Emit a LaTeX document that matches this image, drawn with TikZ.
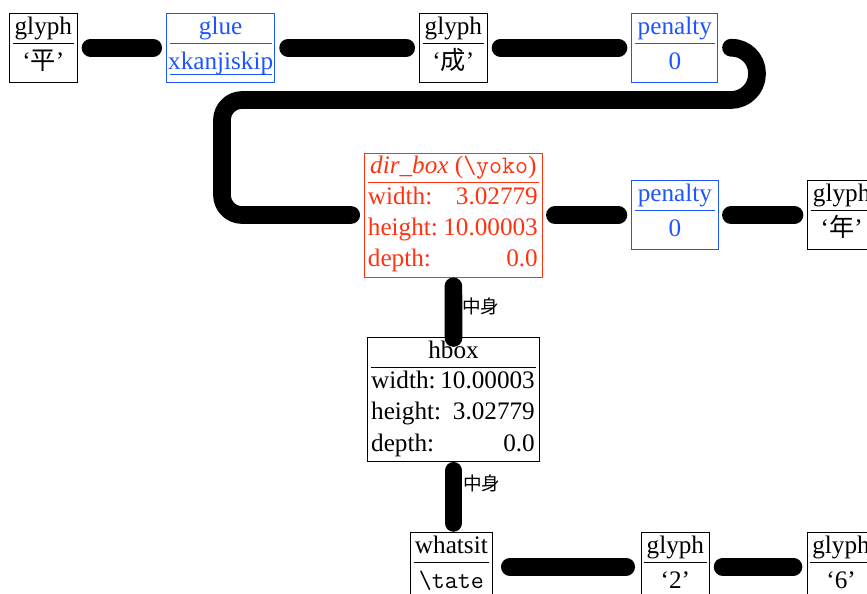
\documentclass[tikz,border=0pt]{standalone}
\usepackage{fontspec}
\setmainfont{Liberation Serif}
\newfontfamily\cjk{Noto Sans CJK JP}
\usetikzlibrary{calc}
\definecolor{nblue}{RGB}{30,85,255}
\definecolor{nred}{RGB}{255,51,17}
\newcommand\twobox[7]{%
  \node[box=#5, minimum width=#4*0.5pt] (#1) at (#2,#3) {};
  \node[txt, text=#5, anchor=base] (#1t) at ($(#1.north)+(0,21.5)$) {#6};
  \draw[rl, draw=#5] ($(#1.north west)+(3.5,30.5)$) -- ($(#1.north east)+(-3.5,30.5)$);
  \node[txt, text=#5, anchor=base] (#1b) at ($(#1.north)+(0,56.3)$) {#7};
}
\newcommand\tabrow[5]{% box, y, colour, label, value
  \node[txt, text=#3, anchor=base west] (#1l#2) at ($(#1.north west)+(3.5,#2)$) {#4};
  \node[txt, text=#3, anchor=base east] (#1v#2) at ($(#1.north east)+(-4.5,#2)$) {#5};
}
\begin{document}
\begin{tikzpicture}[x=0.5pt,y=-0.5pt,
  box/.style={draw=#1, line width=0.5pt, inner sep=0pt, anchor=north west, minimum height=34.5pt},
  txt/.style={inner sep=0pt, font=\fontsize{12.6}{15}\selectfont},
  rl/.style={line width=0.45pt},
  conn/.style={line width=8.85pt, line cap=round, line join=round, draw=black},
  lbl/.style={inner sep=0pt, anchor=west, font=\fontsize{9.3}{10}\selectfont\cjk}]
\useasboundingbox (0,0) rectangle (867,594);
\clip (0,0) rectangle (867,594);

% row 1
\twobox{g1}{9}{12.7}{67.7}{black}{glyph}{‘{\cjk 平}’}
\twobox{gl}{166}{12.7}{108.3}{nblue}{glue}{xkanjiskip}
\draw[rl, nblue] ($(gl.north west)+(3.5,62)$) -- ($(gl.north east)+(-3.5,62)$);
\twobox{g2}{419}{12.7}{67.7}{black}{glyph}{‘{\cjk 成}’}
\twobox{p1}{631.3}{12.7}{86}{nblue}{penalty}{0}

% row 2
\node[box=nred, minimum width=177.7*0.5pt, minimum height=62pt] (dir) at (364,152.5) {};
\node[txt, text=nred, anchor=base] (dirt) at ($(dir.north)+(0,21)$) {\textit{dir\_box} (\texttt{\textbackslash yoko})};
\draw[rl, nred] ($(dir.north west)+(3.5,29.6)$) -- ($(dir.north east)+(-3.5,29.6)$);
\tabrow{dir}{51.5}{nred}{width:}{3.02779}
\tabrow{dir}{82.8}{nred}{height:}{10.00003}
\tabrow{dir}{114}{nred}{depth:}{0.0}
\twobox{p2}{631}{180}{86.7}{nblue}{penalty}{0}
\twobox{g3}{807.3}{180}{67.7}{black}{glyph}{‘{\cjk 年}’}

% hbox
\node[box=black, minimum width=171.4*0.5pt, minimum height=62.15pt] (hb) at (367.3,336.7) {};
\node[txt, anchor=base] (hbt) at ($(hb.north)+(0,21.3)$) {hbox};
\draw[rl] ($(hb.north west)+(3.5,30.6)$) -- ($(hb.north east)+(-3.5,30.6)$);
\tabrow{hb}{51.6}{black}{width:}{10.00003}
\tabrow{hb}{82.7}{black}{height:}{3.02779}
\tabrow{hb}{114.3}{black}{depth:}{0.0}

% row 3
\twobox{wh}{410}{531.7}{81.7}{black}{whatsit}{\texttt{\textbackslash tate}}
\twobox{g4}{640.7}{531.7}{68.3}{black}{glyph}{‘2’}
\twobox{g5}{806.7}{531.7}{67.7}{black}{glyph}{‘6’}

% connectors
\draw[conn, shorten <=6.4pt, shorten >=6.4pt] (g1.east) -- (gl.west);
\draw[conn, shorten <=6.4pt, shorten >=6.4pt] (gl.east) -- (g2.west);
\draw[conn, shorten <=6.4pt, shorten >=6.4pt] (g2.east) -- (p1.west);
\coordinate (bend) at (500,100);
\draw[conn, rounded corners=13pt] ([xshift=6.4pt]p1.east) -- (757,47.2) -- (757,100) -- (bend);
\draw[conn, rounded corners=10pt] (bend) -- (222,100) |- ([xshift=-6.4pt]dir.west);
\draw[conn, shorten <=6.1pt, shorten >=6.3pt] (dir.east) -- (p2.west);
\draw[conn, shorten <=6.1pt, shorten >=6.4pt] (p2.east) -- (g3.west);
\draw[conn, shorten <=4.4pt, shorten >=-0.65pt] (dir.south) -- (hb.north);
\draw[conn, shorten <=4.4pt, shorten >=4.4pt] (hb.south) -- (hb.south |- wh.north);
\draw[conn, shorten <=8.55pt, shorten >=7.25pt] (wh.east) -- (g4.west);
\draw[conn, shorten <=6.3pt, shorten >=6.6pt] (g4.east) -- (g5.west);

\node[lbl] (l1) at (461.7,306.7) {中身};
\node[lbl] (l2) at (462.7,483) {中身};
\end{tikzpicture}
\end{document}
